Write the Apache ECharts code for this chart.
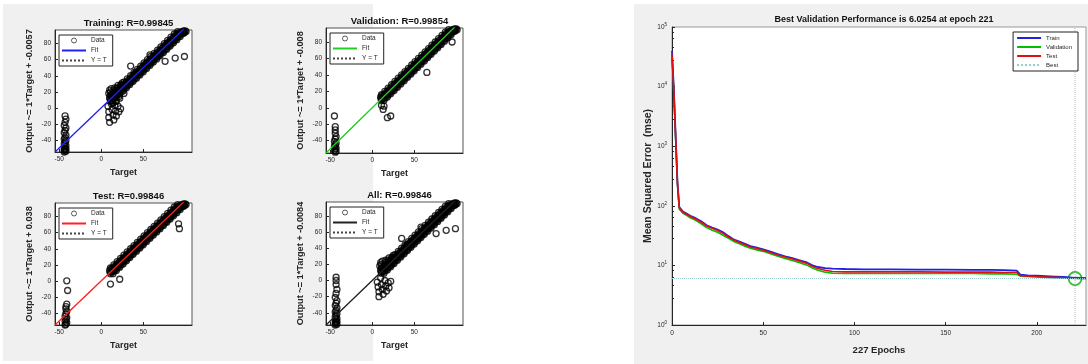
<!DOCTYPE html>
<html><head><meta charset="utf-8">
<script src="https://cdn.jsdelivr.net/npm/echarts@6/dist/echarts.min.js"></script>
<style>
html,body{margin:0;padding:0;background:#fff;}
#wrap{position:relative;width:1088px;height:364px;overflow:hidden;}
.bg{position:absolute;background:#f0f0f0;}
#chart{position:absolute;left:0;top:0;width:1088px;height:364px;}
</style></head><body>
<div id="wrap">
<div class="bg" style="left:3px;top:4px;width:370px;height:357px"></div>
<div class="bg" style="left:634px;top:4px;width:454px;height:360px"></div>
<div id="chart"></div>
</div>
<script>
// ---------- regression panels data ----------
const panelTitles = ['Training: R=0.99845', 'Validation: R=0.99854', 'Test: R=0.99846', 'All: R=0.99846'];
const fitSlope = [1, 1, 1, 1];
const fitIntercept = [-0.0057, -0.008, 0.038, -0.0084];
const panelYLabels = ['Output ~= 1*Target + -0.0057', 'Output ~= 1*Target + -0.008', 'Output ~= 1*Target + 0.038', 'Output ~= 1*Target + -0.0084'];
const legendNames = ['Data', 'Fit', 'Y = T'];
const regXTicks = [-50, 0, 50];
const regYTicks = [-40, -20, 0, 20, 40, 60, 80];
const regXRange = [-55, 108];
const regYRange = [-55, 97];

// dense diagonal band of Target/Output pairs (shared look in all panels)
const bandPts = [
  [10,13],[11,9],[12,15],[13,11],[14,16],[15,12],[16,18],[17,14],[18,20],[19,16],[20,22],[21,18],
  [22,24],[23,20],[24,26],[25,22],[26,28],[27,24],[28,30],[29,26],[30,32],[31,28],[32,34],[33,30],
  [34,36],[35,32],[36,38],[37,34],[38,40],[39,36],[40,42],[41,38],[42,44],[43,40],[44,46],[45,42],
  [46,48],[47,44],[48,50],[49,46],[50,52],[51,48],[52,54],[53,50],[54,56],[55,52],[56,58],[57,54],
  [58,60],[59,56],[60,62],[61,58],[62,64],[63,60],[64,66],[65,62],[66,68],[67,64],[68,70],[69,66],
  [70,72],[71,68],[72,74],[73,70],[74,76],[75,72],[76,78],[77,74],[78,80],[79,76],[80,82],[81,78],
  [82,84],[83,80],[84,86],[85,82],[86,88],[87,84],[88,90],[89,86],[90,92],[91,88],[92,93],[93,90],
  [94,94],[95,92],[96,95],[97,93],[98,96],[99,94],[100,96],[101,95]
];
const bandCore = [
  [10.5,11],[12.5,12],[14.5,15],[16.5,16],[18.5,19],[20.5,20],[22.5,23],[24.5,24],[26.5,27],[28.5,28],
  [30.5,31],[32.5,32],[34.5,35],[36.5,36],[38.5,39],[40.5,40],[42.5,43],[44.5,44],[46.5,47],[48.5,48],
  [50.5,51],[52.5,52],[54.5,55],[56.5,56],[58.5,59],[60.5,60],[62.5,63],[64.5,64],[66.5,67],[68.5,68],
  [70.5,71],[72.5,72],[74.5,75],[76.5,76],[78.5,79],[80.5,80],[82.5,83],[84.5,84],[86.5,87],[88.5,88],
  [90.5,91],[92.5,91],[94.5,93],[96.5,94],[98.5,95],
  [11,16],[15,20],[19,24],[23,28],[27,32],[31,36],[35,40],[39,44],[43,48],[47,52],[51,56],[55,60],
  [59,64],[63,68],[67,72],[71,76],[75,80],[79,84],[83,88],[87,92],[91,95],
  [14,9],[18,13],[22,17],[26,21],[30,25],[34,29],[38,33],[42,37],[46,41],[50,45],[54,49],[58,53],
  [62,57],[66,61],[70,65],[74,69],[78,73],[82,77],[86,81],[90,85],[94,89],[98,93]
];
const trainExtra = [
  [-44,-55],[-42,-54],[-44,-53],[-43,-52],[-42,-51],[-44,-50],[-43,-48],[-42,-47],[-44,-45],[-43,-43],
  [-42,-41],[-44,-39],[-43,-37],[-42,-34],[-44,-31],[-43,-28],[-42,-25],[-44,-22],[-43,-18],[-42,-14],[-43,-10],
  [8,2],[9,-5],[9,-12],[10,-18],[12,5],[13,-2],[14,-9],[15,-15],[16,3],[17,-4],[18,-10],[20,2],
  [21,-5],[23,-1],[10,22],[12,24],[14,6],[16,25],[18,8],[20,28],[22,12],[25,31],[27,18],
  [9,18],[11,20],[13,7],[15,22],[17,9],[19,25],[21,14],[24,29],
  [35,52],[41,44],[58,66],[76,58],[88,62],[99,64]
];
const valExtra = [
  [-44,-54],[-43,-53],[-45,-52],[-44,-50],[-43,-49],[-45,-47],[-44,-45],[-43,-43],[-45,-41],[-44,-38],
  [-43,-35],[-44,-31],[-44,-27],[-44,-23],[-45,-10],[11,3],[13,-2],[14,2],[18,-12],[22,-10],[65,43],[95,80]
];
const testExtra = [
  [-43,-55],[-42,-54],[-41,-52],[-43,-50],[-42,-48],[-41,-46],[-43,-44],[-42,-41],[-41,-38],
  [-42,-35],[-42,-32],[-41,-29],[-41,0],[-40,-12],[11,-4],[22,2],[92,71],[93,65]
];
const allExtra = [
  [-44,-55],[-42,-54],[-44,-53],[-43,-52],[-42,-51],[-44,-50],[-43,-48],[-42,-47],[-44,-45],[-43,-43],
  [-42,-41],[-44,-39],[-43,-37],[-42,-34],[-44,-31],[-43,-28],[-42,-25],[-44,-21],[-43,-16],[-42,-11],
  [-43,-5],[-43,0],[-43,4],
  [6,-2],[7,-8],[8,-14],[8,-20],[10,3],[11,-5],[12,-11],[13,-17],[15,0],[16,-7],[17,-13],[19,-3],
  [20,-9],[22,-1],[10,22],[12,24],[16,25],[20,28],[25,31],[9,18],[11,20],[15,22],[19,25],[24,29],
  [35,52],[41,44],[58,66],[76,58],[88,62],[99,64]
];
const panelExtras = [trainExtra, valExtra, testExtra, allExtra];

// ---------- performance plot data ----------
const perfEpochs = [0,1,2,3,4,6,8,10,13,16,19,22,25,28,31,34,37,40,43,46,50,54,58,62,66,70,74,77,80,84,88,95,105,120,135,150,165,175,182,189,191,195,200,205,210,215,221,227];
const perfTrain = [40000,9000,1500,250,95,80,74,68,62,55,47,43,40,36,31,27,25,23,21,20,18.5,17,15.5,14.2,13.2,12.2,11.2,10.0,9.4,9.0,8.8,8.7,8.6,8.6,8.5,8.5,8.4,8.4,8.3,8.2,7.0,6.8,6.7,6.6,6.5,6.4,6.2,6.1];
const perfVal = [30000,8000,1300,220,88,75,69,63,57,50,43,39,36,32,28.5,25,23,21,19.4,18.4,17.2,15.7,14.3,13.1,12.1,11.1,10.1,9.0,8.3,7.7,7.4,7.3,7.3,7.3,7.3,7.3,7.3,7.2,7.2,7.1,6.6,6.5,6.4,6.3,6.2,6.15,6.0254,6.05];
const perfTest = [35000,8500,1400,240,92,78,72,66,60,53,46,42,38.5,34.5,30,26.5,24.2,22.2,20.4,19.4,18,16.5,15,13.8,12.8,11.8,10.8,9.6,8.9,8.3,7.9,7.8,7.8,7.8,7.8,7.7,7.7,7.7,7.6,7.6,6.7,6.6,6.5,6.4,6.3,6.2,6.1,6.05];
const perfXTicks = [0, 50, 100, 150, 200];
const bestEpoch = 221;
const bestPerf = 6.0254;
const totalEpochs = 227;
const perfTitle = 'Best Validation Performance is 6.0254 at epoch 221';
const perfLegend = ['Train', 'Validation', 'Test', 'Best'];

// ---------- styling / layout ----------
const FONT = '"Liberation Sans", Arial, sans-serif';
const TXT = '#262626';
const fitColors = ['#2020ff', '#20d020', '#ff2020', '#202020'];
const regGrids = [
  {left: 55, top: 30, width: 137, height: 122},
  {left: 326, top: 28, width: 137, height: 125},
  {left: 55, top: 203, width: 137, height: 122},
  {left: 326, top: 202, width: 137, height: 123}
];
const perfGrid = {left: 672, top: 27, width: 414, height: 298};
const sufs = ['', '\u200b', '\u200b\u200b', '\u200b\u200b\u200b'];
const hideSym = {itemStyle: {opacity: 0}};

const grid = [], xAxis = [], yAxis = [], series = [], title = [], legend = [];

regGrids.forEach((g, i) => {
  grid.push(Object.assign({show: true, backgroundColor: '#fff', borderColor: '#555', borderWidth: 1}, g));
  title.push({text: panelTitles[i], left: g.left + g.width / 2, top: g.top - 17, textAlign: 'center',
    textStyle: {fontFamily: FONT, fontSize: 9.5, fontWeight: 'bold', color: '#111'}});
  xAxis.push({type: 'value', gridIndex: i, min: regXRange[0], max: regXRange[1],
    axisLine: {onZero: false, lineStyle: {color: TXT}},
    axisTick: {inside: true, length: 3, customValues: regXTicks, lineStyle: {color: TXT}},
    axisLabel: {customValues: regXTicks, fontSize: 6.5, color: TXT, margin: 4, fontFamily: FONT},
    splitLine: {show: false},
    name: 'Target', nameLocation: 'middle', nameGap: 16,
    nameTextStyle: {fontFamily: FONT, fontSize: 9, fontWeight: 'bold', color: TXT}});
  yAxis.push({type: 'value', gridIndex: i, min: regYRange[0], max: regYRange[1],
    axisLine: {onZero: false, lineStyle: {color: TXT}},
    axisTick: {inside: true, length: 3, customValues: regYTicks, lineStyle: {color: TXT}},
    axisLabel: {customValues: regYTicks, fontSize: 6.5, color: TXT, margin: 4, fontFamily: FONT},
    splitLine: {show: false},
    name: panelYLabels[i], nameLocation: 'middle', nameGap: 21,
    nameTextStyle: {fontFamily: FONT, fontSize: 9.2, fontWeight: 'bold', color: TXT}});
  const s = sufs[i];
  const lo = regXRange[0], hi = regXRange[1];
  series.push({type: 'line', name: legendNames[2] + s, xAxisIndex: i, yAxisIndex: i,
    data: [[lo, lo], [hi, hi]], symbol: 'none', silent: true,
    lineStyle: {color: '#444', width: 1, type: 'dotted'}, itemStyle: {color: '#444'}});
  series.push({type: 'scatter', name: legendNames[0] + s, xAxisIndex: i, yAxisIndex: i,
    data: bandPts.concat(bandCore, panelExtras[i]), symbol: 'circle', symbolSize: 6, silent: true,
    itemStyle: {color: 'rgba(0,0,0,0)', borderColor: '#000', borderWidth: 1.3}});
  series.push({type: 'line', name: legendNames[1] + s, xAxisIndex: i, yAxisIndex: i,
    data: [[lo, fitSlope[i] * lo + fitIntercept[i]], [hi, fitSlope[i] * hi + fitIntercept[i]]],
    symbol: 'none', silent: true,
    lineStyle: {color: fitColors[i], width: 1.3}, itemStyle: {color: fitColors[i]}});
  legend.push({
    data: [{name: legendNames[0] + s, itemStyle: {borderWidth: 0.8}},
      Object.assign({name: legendNames[1] + s}, hideSym), Object.assign({name: legendNames[2] + s}, hideSym)],
    left: g.left + 4, top: g.top + 5, orient: 'vertical',
    itemWidth: 24, itemHeight: 5, itemGap: 3, padding: [2, 6, 2, 2], borderColor: '#222', borderWidth: 1,
    backgroundColor: '#fff', selectedMode: false,
    textStyle: {fontFamily: FONT, fontSize: 6.5, color: TXT}});
});

// performance plot
const pi = regGrids.length;
grid.push(Object.assign({show: true, backgroundColor: '#fff', borderColor: '#999', borderWidth: 1}, perfGrid));
title.push({text: perfTitle, left: perfGrid.left + perfGrid.width / 2, top: 10, textAlign: 'center',
  textStyle: {fontFamily: FONT, fontSize: 9, fontWeight: 'bold', color: '#111'}});
xAxis.push({type: 'value', gridIndex: pi, min: 0, max: totalEpochs,
  axisLine: {onZero: false, lineStyle: {color: TXT}},
  axisTick: {inside: true, length: 3, customValues: perfXTicks, lineStyle: {color: TXT}},
  axisLabel: {customValues: perfXTicks, fontSize: 6.5, color: TXT, margin: 5, fontFamily: FONT},
  splitLine: {show: false},
  name: totalEpochs + ' Epochs', nameLocation: 'middle', nameGap: 20,
  nameTextStyle: {fontFamily: FONT, fontSize: 9.5, fontWeight: 'bold', color: TXT}});
yAxis.push({type: 'log', logBase: 10, gridIndex: pi, min: 1, max: 100000,
  axisLine: {lineStyle: {color: TXT}},
  axisTick: {inside: true, length: 3, lineStyle: {color: TXT}},
  minorTick: {show: true, length: 2, splitNumber: 5, lineStyle: {color: TXT}},
  axisLabel: {fontSize: 6.5, color: TXT, margin: 5, fontFamily: FONT,
    formatter: v => '10{s|' + Math.round(Math.log10(v)) + '}',
    rich: {s: {fontSize: 4.5, verticalAlign: 'top', padding: [0, 0, 5, 0], fontFamily: FONT, color: TXT}}},
  splitLine: {show: false},
  name: 'Mean Squared Error  (mse)', nameLocation: 'middle', nameGap: 17,
  nameTextStyle: {fontFamily: FONT, fontSize: 10.5, fontWeight: 'bold', color: TXT}});

const zip = arr => perfEpochs.map((e, k) => [e, arr[k]]);
series.push({type: 'line', name: perfLegend[1], xAxisIndex: pi, yAxisIndex: pi, data: zip(perfVal),
  symbol: 'none', lineStyle: {color: '#00c000', width: 1.6}, itemStyle: {color: '#00c000'}});
series.push({type: 'line', name: perfLegend[0], xAxisIndex: pi, yAxisIndex: pi, data: zip(perfTrain),
  symbol: 'none', lineStyle: {color: '#2020e0', width: 1.8}, itemStyle: {color: '#2020e0'}});
series.push({type: 'line', name: perfLegend[2], xAxisIndex: pi, yAxisIndex: pi, data: zip(perfTest),
  symbol: 'none', lineStyle: {color: '#e01010', width: 1.6}, itemStyle: {color: '#e01010'}});
series.push({type: 'line', name: perfLegend[3], xAxisIndex: pi, yAxisIndex: pi,
  data: [[0, bestPerf], [totalEpochs, bestPerf]], symbol: 'none',
  lineStyle: {color: '#9cc', width: 1, type: 'dotted'}, itemStyle: {color: '#9cc'}});
series.push({type: 'line', name: perfLegend[3], xAxisIndex: pi, yAxisIndex: pi,
  data: [[bestEpoch, 1], [bestEpoch, 100000]], symbol: 'none',
  lineStyle: {color: '#bbb', width: 1, type: 'dotted'}, itemStyle: {color: '#bbb'}});
series.push({type: 'scatter', name: 'BestPoint', xAxisIndex: pi, yAxisIndex: pi,
  data: [[bestEpoch, bestPerf]], symbol: 'circle', symbolSize: 13,
  itemStyle: {color: 'rgba(0,0,0,0)', borderColor: '#00b000', borderWidth: 1.8}});
legend.push({data: perfLegend.map(n => Object.assign({name: n}, hideSym)), right: 10, top: 32, orient: 'vertical',
  itemWidth: 24, itemHeight: 6, itemGap: 3, padding: [3, 6, 3, 3], borderColor: '#222', borderWidth: 1,
  backgroundColor: '#fff', selectedMode: false,
  textStyle: {fontFamily: FONT, fontSize: 6, color: TXT}});

const chart = echarts.init(document.getElementById('chart'), null, {renderer: 'canvas'});
chart.setOption({
  backgroundColor: 'transparent',
  animation: false,
  textStyle: {fontFamily: FONT},
  title, grid, xAxis, yAxis, legend, series
});
</script>
</body></html>
